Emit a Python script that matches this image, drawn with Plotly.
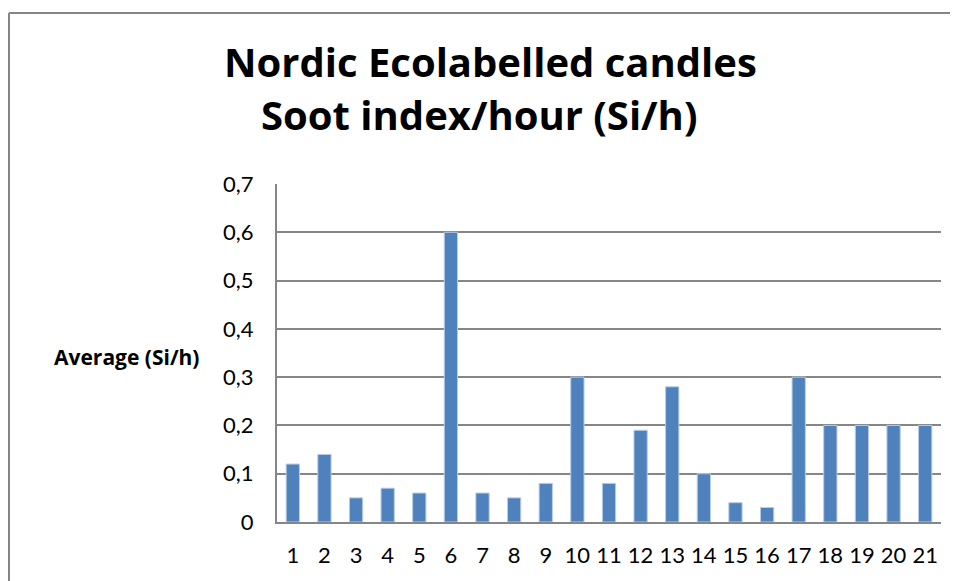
import plotly.graph_objects as go

categories = [str(i) for i in range(1, 22)]
values = [0.12, 0.14, 0.05, 0.07, 0.06, 0.60, 0.06, 0.05, 0.08, 0.30, 0.08,
          0.19, 0.28, 0.10, 0.04, 0.03, 0.30, 0.20, 0.20, 0.20, 0.20]
y_ticks = [0, 0.1, 0.2, 0.3, 0.4, 0.5, 0.6, 0.7]
y_tick_labels = ["0", "0,1", "0,2", "0,3", "0,4", "0,5", "0,6", "0,7"]

OFF = 8  # page body margin
W, H = 958 - OFF, 581 - OFF
L, T = 277 - OFF, 184 - OFF
R = W - (941 - OFF)
B = H - (522 - OFF)
pw, ph = W - L - R, H - T - B

def px_x(p):
    return (p - OFF - L) / pw

def px_y(p):
    return 1 - (p - OFF - T) / ph

tick_font = "Lato, Open Sans, sans-serif"
title_font = "Open Sans, Lato, sans-serif"

fig = go.Figure(go.Bar(
    x=categories, y=values,
    marker=dict(color="#4F81BD", line=dict(color="#B9CDE5", width=1)),
    width=0.42,
))

border = dict(color="#868686", width=2)
fig.update_layout(
    width=W, height=H,
    margin=dict(l=L, r=R, t=T, b=B),
    paper_bgcolor="white", plot_bgcolor="white",
    showlegend=False,
    font=dict(family=tick_font, color="black"),
    xaxis=dict(
        type="category", showgrid=False, showline=True, linecolor="#868686",
        linewidth=2, ticks="", tickfont=dict(size=22, family=tick_font),
        ticklabelstandoff=13,
    ),
    yaxis=dict(
        range=[0, 0.7], tickvals=y_ticks, ticktext=y_tick_labels,
        showgrid=True, gridcolor="#868686", gridwidth=2,
        showline=True, linecolor="#868686", linewidth=2,
        ticks="", ticklabelstandoff=17,
        tickfont=dict(size=22, family=tick_font), zeroline=False,
    ),
    shapes=[
        dict(type="line", xref="paper", yref="paper",
             x0=px_x(9), x1=px_x(1100), y0=px_y(13), y1=px_y(13), line=border),
        dict(type="line", xref="paper", yref="paper",
             x0=px_x(9), x1=px_x(9), y0=px_y(13), y1=px_y(700), line=border),
    ],
    annotations=[
        dict(text="<b>Nordic Ecolabelled candles</b>", xref="paper", yref="paper",
             x=px_x(490), y=px_y(61), showarrow=False,
             font=dict(size=40, family=title_font), xanchor="center", yanchor="middle"),
        dict(text="<b>Soot index/hour (Si/h)</b>", xref="paper", yref="paper",
             x=px_x(479), y=px_y(114), showarrow=False,
             font=dict(size=40, family=title_font), xanchor="center", yanchor="middle"),
        dict(text="<b>Average (Si/h)</b>", xref="paper", yref="paper",
             x=px_x(126), y=px_y(357), showarrow=False,
             font=dict(size=21, family=title_font), xanchor="center", yanchor="middle"),
    ],
)

fig.write_html("out.html")
